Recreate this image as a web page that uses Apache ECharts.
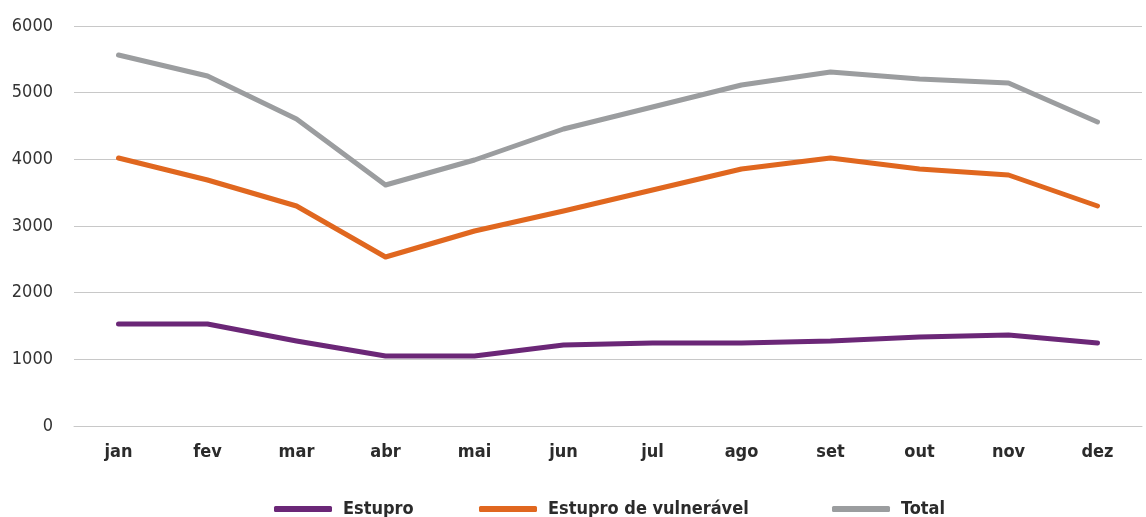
<!DOCTYPE html>
<html>
<head>
<meta charset="utf-8">
<script src="https://cdn.jsdelivr.net/npm/echarts@6/dist/echarts.min.js"></script>
<style>
  html, body { margin: 0; padding: 0; background: #fff; }
  #chart { width: 1146px; height: 517px; }
</style>
</head>
<body>
<div id="chart"></div>
<script>
const months = ['jan', 'fev', 'mar', 'abr', 'mai', 'jun', 'jul', 'ago', 'set', 'out', 'nov', 'dez']
const estupro = [1530, 1530, 1275, 1050, 1050, 1215, 1245, 1245, 1275, 1335, 1365, 1245]
const estuproVulneravel = [4020, 3690, 3300, 2535, 2925, 3225, 3540, 3855, 4020, 3855, 3765, 3300]
const total = [5565, 5250, 4605, 3615, 3990, 4455, 4785, 5115, 5310, 5205, 5145, 4560]
const yTicks = [0, 1000, 2000, 3000, 4000, 5000, 6000]

const font = '"Liberation Sans Narrow", "DejaVu Sans Condensed", sans-serif'
const colors = { estupro: '#6b2777', vuln: '#e0671f', total: '#9b9d9f' }

const chart = echarts.init(document.getElementById('chart'))

const legendBase = {
  bottom: -6,
  itemWidth: 58,
  itemHeight: 6,
  icon: 'roundRect',
  textStyle: { fontFamily: font, fontSize: 18, fontWeight: 'bold', color: '#2b2b2b', padding: [0, 0, 0, 6] }
}

const line = (name, data, color) => ({
  name,
  type: 'line',
  data,
  symbol: 'none',
  lineStyle: { width: 5, color, cap: 'round', join: 'round' },
  itemStyle: { color }
})

chart.setOption({
  animation: false,
  legend: [
    { ...legendBase, left: 269, data: ['Estupro'] },
    { ...legendBase, left: 474, data: ['Estupro de vulnerável'] },
    { ...legendBase, left: 827, data: ['Total'] }
  ],
  grid: { left: 74, right: 4, top: 26, bottom: 91 },
  xAxis: {
    type: 'category',
    data: months,
    boundaryGap: true,
    axisLine: { show: true, lineStyle: { color: '#c8c8c8', width: 1 } },
    axisTick: { show: false },
    axisLabel: { margin: 17, fontFamily: font, fontSize: 18, fontWeight: 'bold', color: '#2b2b2b' }
  },
  yAxis: {
    type: 'value',
    min: yTicks[0],
    max: yTicks[yTicks.length - 1],
    interval: 1000,
    axisLine: { show: false },
    axisTick: { show: false },
    splitLine: { lineStyle: { color: '#c8c8c8', width: 1 } },
    axisLabel: { margin: 21, fontFamily: font, fontSize: 18, color: '#333', formatter: v => String(v) }
  },
  series: [
    line('Estupro', estupro, colors.estupro),
    line('Estupro de vulnerável', estuproVulneravel, colors.vuln),
    line('Total', total, colors.total)
  ]
})
</script>
</body>
</html>
